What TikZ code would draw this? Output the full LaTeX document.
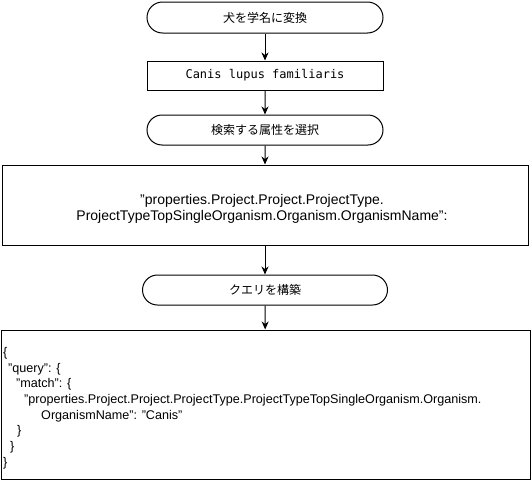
\documentclass[tikz,border=0pt]{standalone}
\usepackage{fontspec}
\setmainfont{Liberation Sans}
\setmonofont{DejaVu Sans Mono}
\newfontfamily\jpfont{Noto Sans CJK JP}
\usetikzlibrary{arrows.meta,shapes.misc}
\begin{document}
\begin{tikzpicture}[x=1pt,y=-1pt,
  term/.style={draw=black, line width=1pt, rounded rectangle, minimum width=236pt, minimum height=30pt, inner sep=0pt, font=\jpfont\fontsize{12pt}{14pt}\selectfont},
  plainbox/.style={draw=black, line width=1pt, rectangle, inner sep=0pt},
  flow/.style={draw=black, line width=1pt, -{Stealth[length=8pt,width=7pt,inset=2.5pt]}}
]
\useasboundingbox (0,0) rectangle (531,482);
\node[term, minimum height=31pt] (t1) at (265,17.5) {犬を学名に変換};
\node[plainbox, minimum width=236pt, minimum height=29pt, font=\ttfamily\fontsize{12pt}{14pt}\selectfont] (b2) at (265,75.5) {Canis lupus familiaris};
\node[term] (t3) at (265,130) {検索する属性を選択};
\node[plainbox, minimum width=526pt, minimum height=80pt] (b4) at (265,205) {};
\node[font=\fontsize{14pt}{16.5pt}\selectfont, align=center, inner sep=0pt] (b4t) at (262,209) {"properties.Project.Project.ProjectType.\\ProjectTypeTopSingleOrganism.Organism.OrganismName":};
\node[term, minimum width=245pt] (t5) at (265,290) {クエリを構築};
\node[plainbox, minimum width=529pt, minimum height=149pt] (b6) at (265.5,404.5) {};
\node[font=\fontsize{12.6pt}{15.7pt}\selectfont, align=left, anchor=west, inner sep=0pt] (b6t) at (3,408) {%
\{\\
\hspace*{5pt}"query": \{\\
\hspace*{13pt}"match": \{\\
\hspace*{21pt}"properties.Project.Project.ProjectType.ProjectTypeTopSingleOrganism.Organism.\\
\hspace*{38pt}OrganismName": "Canis"\\
\hspace*{14pt}\}\\
\hspace*{7pt}\}\\
\}};
\draw[flow] (t1) -- (b2);
\draw[flow] (b2) -- (t3);
\draw[flow] (t3) -- (b4);
\draw[flow] (b4) -- (t5);
\draw[flow] (t5) -- (b6);
\end{tikzpicture}
\end{document}
